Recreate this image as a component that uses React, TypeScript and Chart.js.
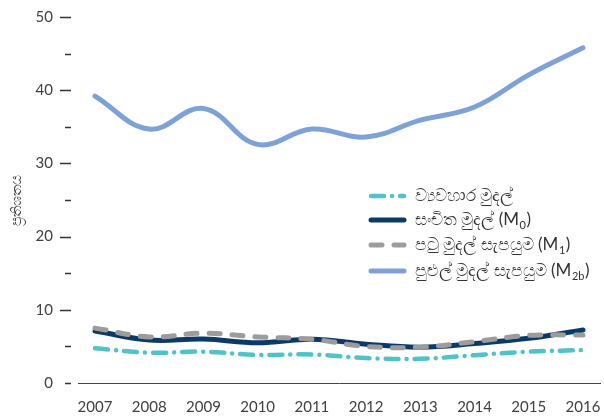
import { useEffect, useRef } from "react";
import { Chart, registerables } from "chart.js";

Chart.register(...registerables);

const years = [2007, 2008, 2009, 2010, 2011, 2012, 2013, 2014, 2015, 2016];
const currency = [4.75, 4.14, 4.28, 3.83, 3.9, 3.4, 3.3, 3.8, 4.28, 4.5];
const reserveM0 = [7.1, 5.87, 6.0, 5.5, 5.97, 5.3, 4.9, 5.4, 6.1, 7.25];
const narrowM1 = [7.5, 6.3, 6.8, 6.3, 5.97, 5.0, 4.9, 5.65, 6.5, 6.55];
const broadM2b = [39.2, 34.7, 37.5, 32.6, 34.7, 33.6, 35.9, 37.7, 42.1, 45.8];

const legendNames = ["ව්‍යවහාර මුදල්", "සංචිත මුදල්", "පටු මුදල් සැපයුම", "පුළුල් මුදල් සැපයුම"];
const legendSubs = ["", "0", "1", "2b"];
const yTitle = "ප්‍රතිශතය";
const yTicks = [0, 10, 20, 30, 40, 50];

const colors = ["#4fc3c7", "#0b3a68", "#9c9c9c", "#7ea2d7"];
const FONT = "Lato, 'DejaVu Sans', sans-serif";

export default function App() {
  const ref = useRef<HTMLCanvasElement | null>(null);

  useEffect(() => {
    document.body.style.margin = "0";
    const canvas = ref.current;
    if (!canvas) return;

    const tickPlugin = {
      id: "tickDashes",
      afterDraw(chart: any) {
        const ctx = chart.ctx;
        const y = chart.scales.y;
        ctx.save();
        ctx.strokeStyle = "#333";
        ctx.lineWidth = 1.5;
        for (let v = 0; v <= 50; v += 5) {
          const py = Math.round(y.getPixelForValue(v)) + 0.5;
          const major = v % 10 === 0 && v !== 0;
          ctx.beginPath();
          ctx.moveTo(major ? 60 : 65, py);
          ctx.lineTo(71, py);
          ctx.stroke();
        }
        ctx.restore();
      },
    };

    const legendPlugin = {
      id: "customLegend",
      afterDraw(chart: any) {
        const ctx = chart.ctx;
        const rows = [196, 220, 245, 271];
        const dashes: number[][] = [[13, 8, 0.1, 8], [], [11, 12], []];
        const widths = [4.5, 5, 5, 5];
        ctx.save();
        for (let i = 0; i < 4; i++) {
          const yy = rows[i];
          ctx.beginPath();
          ctx.setLineDash(dashes[i]);
          ctx.lineCap = "round";
          ctx.strokeStyle = colors[i];
          ctx.lineWidth = widths[i];
          ctx.moveTo(371, yy);
          ctx.lineTo(404, yy);
          ctx.stroke();
          ctx.setLineDash([]);
          ctx.fillStyle = "#333";
          ctx.textBaseline = "middle";
          ctx.font = `17px ${FONT}`;
          let x = 415;
          let label = legendNames[i];
          if (legendSubs[i]) label += " (M";
          ctx.fillText(label, x, yy);
          x += ctx.measureText(label).width;
          if (legendSubs[i]) {
            ctx.font = `11px ${FONT}`;
            ctx.fillText(legendSubs[i], x + 0.5, yy + 5);
            x += ctx.measureText(legendSubs[i]).width + 1;
            ctx.font = `17px ${FONT}`;
            ctx.fillText(")", x, yy);
          }
        }
        ctx.restore();
      },
    };

    const mk = (data: number[]) => data.map((v, i) => ({ x: years[i], y: v }));

    const chart = new Chart(canvas, {
      type: "line",
      data: {
        datasets: [
          {
            label: legendNames[3],
            data: mk(broadM2b),
            borderColor: colors[3],
            borderWidth: 5,
            borderCapStyle: "round",
            tension: 0.4,
            pointRadius: 0,
            order: 3,
          },
          {
            label: legendNames[0],
            data: mk(currency),
            borderColor: colors[0],
            borderWidth: 4.5,
            borderDash: [13, 8, 0.1, 8],
            borderCapStyle: "round",
            tension: 0.4,
            pointRadius: 0,
            order: 2,
          },
          {
            label: legendNames[1],
            data: mk(reserveM0),
            borderColor: colors[1],
            borderWidth: 5,
            borderCapStyle: "round",
            tension: 0.4,
            pointRadius: 0,
            order: 1,
          },
          {
            label: legendNames[2],
            data: mk(narrowM1),
            borderColor: colors[2],
            borderWidth: 5,
            borderDash: [11, 12],
            borderCapStyle: "round",
            tension: 0.4,
            pointRadius: 0,
            order: 0,
          },
        ],
      },
      options: {
        responsive: false,
        animation: false,
        devicePixelRatio: 1,
        layout: { padding: { left: 0, right: 4, top: 17, bottom: 0 } },
        plugins: { legend: { display: false }, tooltip: { enabled: false } },
        scales: {
          x: {
            type: "linear",
            min: 2007 - 0.314,
            max: 2016 + 0.314,
            afterBuildTicks: (s: any) => {
              s.ticks = years.map((v) => ({ value: v }));
            },
            afterFit: (s: any) => {
              s.height = 37;
              s.paddingLeft = 0;
              s.paddingRight = 0;
              s.paddingTop = 0;
              s.paddingBottom = 0;
            },
            ticks: {
              autoSkip: false,
              maxRotation: 0,
              padding: 15,
              color: "#404040",
              font: { family: FONT, size: 15 },
              callback: (v: any) => String(v),
            },
            grid: { display: false, drawTicks: false },
            border: { display: true, color: "#444", width: 1 },
          },
          y: {
            min: 0,
            max: 50,
            afterBuildTicks: (s: any) => {
              s.ticks = yTicks.map((v) => ({ value: v }));
            },
            afterFit: (s: any) => {
              s.width = 78;
              s.paddingTop = 0;
              s.paddingBottom = 0;
              s.paddingLeft = 0;
              s.paddingRight = 0;
            },
            ticks: {
              padding: 25,
              color: "#404040",
              font: { family: FONT, size: 15 },
            },
            grid: { display: false, drawTicks: false },
            border: { display: false },
            title: {
              display: true,
              text: yTitle,
              color: "#404040",
              font: { family: FONT, size: 14 },
              padding: { top: 8, bottom: 0 },
            },
          },
        },
      },
      plugins: [tickPlugin, legendPlugin],
    } as any);

    return () => chart.destroy();
  }, []);

  return (
    <div style={{ position: "fixed", left: 0, top: 0, width: 604, height: 420 }}>
      <canvas ref={ref} width={604} height={420} style={{ display: "block" }} />
    </div>
  );
}
